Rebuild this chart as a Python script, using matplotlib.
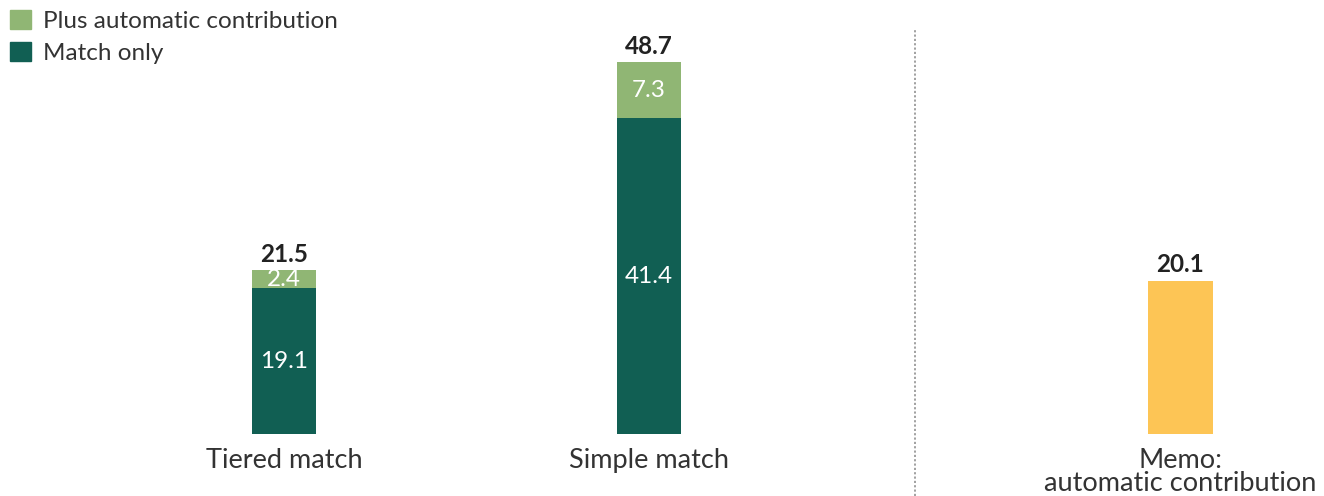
import matplotlib
matplotlib.use("Agg")
import matplotlib.pyplot as plt
from matplotlib.patches import Patch

categories = ["Tiered match", "Simple match", "Memo:\nautomatic contribution"]
match_only = [19.1, 41.4]
plus_auto = [2.4, 7.3]
totals = [21.5, 48.7]
memo_value = [20.1]
legend_labels = ["Plus automatic contribution", "Match only"]

C_DARK = "#115f53"
C_LIGHT = "#90b674"
C_YELLOW = "#fdc555"

plt.rcParams['font.family'] = ['Lato', 'DejaVu Sans']

fig = plt.figure(figsize=(13.24, 4.96), dpi=100)
ax = fig.add_axes([0, 62/496, 1, 434/496])

pos = [0, 1, 2.455]
width = 0.178
PX = 7.63  # pixels per unit

ax.bar(pos[:2], match_only, width=width, color=C_DARK)
ax.bar(pos[:2], plus_auto, width=width, bottom=match_only, color=C_LIGHT)
ax.bar(pos[2:], memo_value, width=width, color=C_YELLOW)

VAL_FS = 17.5
for i in range(2):
    ax.text(pos[i], match_only[i] / 2, f"{match_only[i]:.1f}", ha="center", va="center",
            color="white", fontsize=VAL_FS)
    ax.text(pos[i], match_only[i] + plus_auto[i] / 2, f"{plus_auto[i]:.1f}", ha="center",
            va="center", color="white", fontsize=VAL_FS)
    ax.annotate(f"{totals[i]:.1f}", (pos[i], totals[i]), xytext=(0, 6),
                textcoords="offset points", ha="center", va="baseline",
                color="#222222", fontsize=VAL_FS, fontweight="bold")
ax.annotate(f"{memo_value[0]:.1f}", (pos[2], memo_value[0]), xytext=(0, 6),
            textcoords="offset points", ha="center", va="baseline",
            color="#222222", fontsize=VAL_FS, fontweight="bold")

ax.set_xlim(-284/365, (1324-284)/365)
ax.set_ylim(0, 434/PX)
ax.axis("off")

# category labels
for i, lab in enumerate(categories):
    ax.text(pos[i], -14/PX, lab, ha="center", va="top", fontsize=19.5, color="#333333",
            linespacing=0.92, clip_on=False)

# dotted separator
sep_x = (915-284)/365
ax.plot([sep_x, sep_x], [-62/PX, (434-30)/PX], color="#9a9a9a", linestyle=(0, (1.2, 1.2)),
        linewidth=1.3, clip_on=False)

handles = [Patch(color=C_LIGHT), Patch(color=C_DARK)]
fig.legend(handles, legend_labels, loc="upper left", bbox_to_anchor=(0.0, 1.0),
           frameon=False, fontsize=17.5, handlelength=0.86, handleheight=0.86,
           handletextpad=0.5, labelspacing=0.4, borderpad=0.2, borderaxespad=0.2,
           labelcolor="#333333")

fig.savefig("out.png", dpi=100, facecolor="white")
